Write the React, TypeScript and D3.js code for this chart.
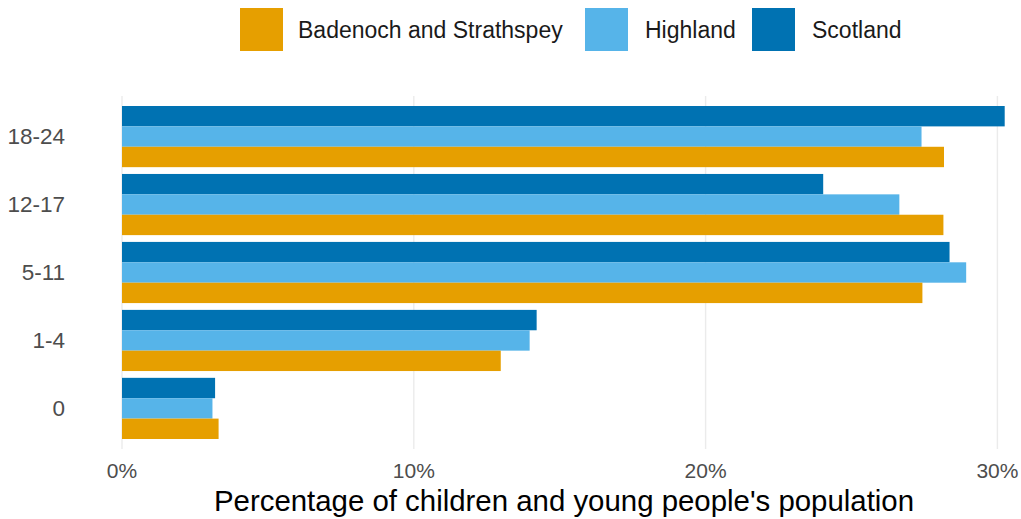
import React from "react";
import * as d3 from "d3";

const categories = ["18-24", "12-17", "5-11", "1-4", "0"];
const seriesNames = ["Scotland", "Highland", "Badenoch and Strathspey"];
const colors: Record<string, string> = {
  "Badenoch and Strathspey": "#E69F00",
  Highland: "#56B4E9",
  Scotland: "#0072B2",
};
const scotland = [30.25, 24.03, 28.36, 14.21, 3.19];
const highland = [27.4, 26.64, 28.93, 13.97, 3.1];
const badenoch = [28.17, 28.15, 27.43, 12.98, 3.31];
const xTicks = [0, 10, 20, 30];

const values: Record<string, number[]> = {
  Scotland: scotland,
  Highland: highland,
  "Badenoch and Strathspey": badenoch,
};

export default function App() {
  const W = 1021;
  const H = 519;
  const panelTop = 96;
  const panelBottom = 449;
  const x = d3.scaleLinear().domain([0, 10]).range([122, 413.8]);
  const y = d3
    .scaleBand<string>()
    .domain(categories)
    .range([106, 439])
    .paddingInner(0.1)
    .paddingOuter(0);
  const inner = d3
    .scaleBand<string>()
    .domain(seriesNames)
    .range([0, y.bandwidth()]);

  const font = "'Liberation Sans', Arial, sans-serif";
  const legendKeys = [
    { name: "Badenoch and Strathspey", kx: 240, tx: 298 },
    { name: "Highland", kx: 585, tx: 645 },
    { name: "Scotland", kx: 752, tx: 812 },
  ];

  return (
    <svg width={W} height={H} style={{ position: "absolute", left: 0, top: 0 }} fontFamily={font}>
      <rect width={W} height={H} fill="white" />
      {xTicks.map((t) => (
        <line
          key={t}
          x1={x(t)}
          x2={x(t)}
          y1={panelTop}
          y2={panelBottom}
          stroke="#ebebeb"
          strokeWidth={1.4}
        />
      ))}
      {categories.map((c, i) => (
        <g key={c}>
          {seriesNames.map((s) => (
            <rect
              key={s}
              x={x(0)}
              y={(y(c) as number) + (inner(s) as number)}
              width={x(values[s][i]) - x(0)}
              height={inner.bandwidth()}
              fill={colors[s]}
            />
          ))}
          <text
            x={65}
            y={(y(c) as number) + y.bandwidth() / 2}
            textAnchor="end"
            dominantBaseline="central"
            fontSize={22.5}
            fill="#4d4d4d"
          >
            {c}
          </text>
        </g>
      ))}
      {xTicks.map((t) => (
        <text
          key={t}
          x={x(t)}
          y={470}
          textAnchor="middle"
          dominantBaseline="central"
          fontSize={21}
          fill="#4d4d4d"
        >
          {t + "%"}
        </text>
      ))}
      <text x={564} y={500} textAnchor="middle" dominantBaseline="central" fontSize={29.4} fill="#000">
        Percentage of children and young people's population
      </text>
      {legendKeys.map((k) => (
        <g key={k.name}>
          <rect x={k.kx} y={8} width={43} height={43} fill={colors[k.name]} />
          <text x={k.tx} y={30} dominantBaseline="central" fontSize={23} fill="#1a1a1a">
            {k.name}
          </text>
        </g>
      ))}
    </svg>
  );
}
